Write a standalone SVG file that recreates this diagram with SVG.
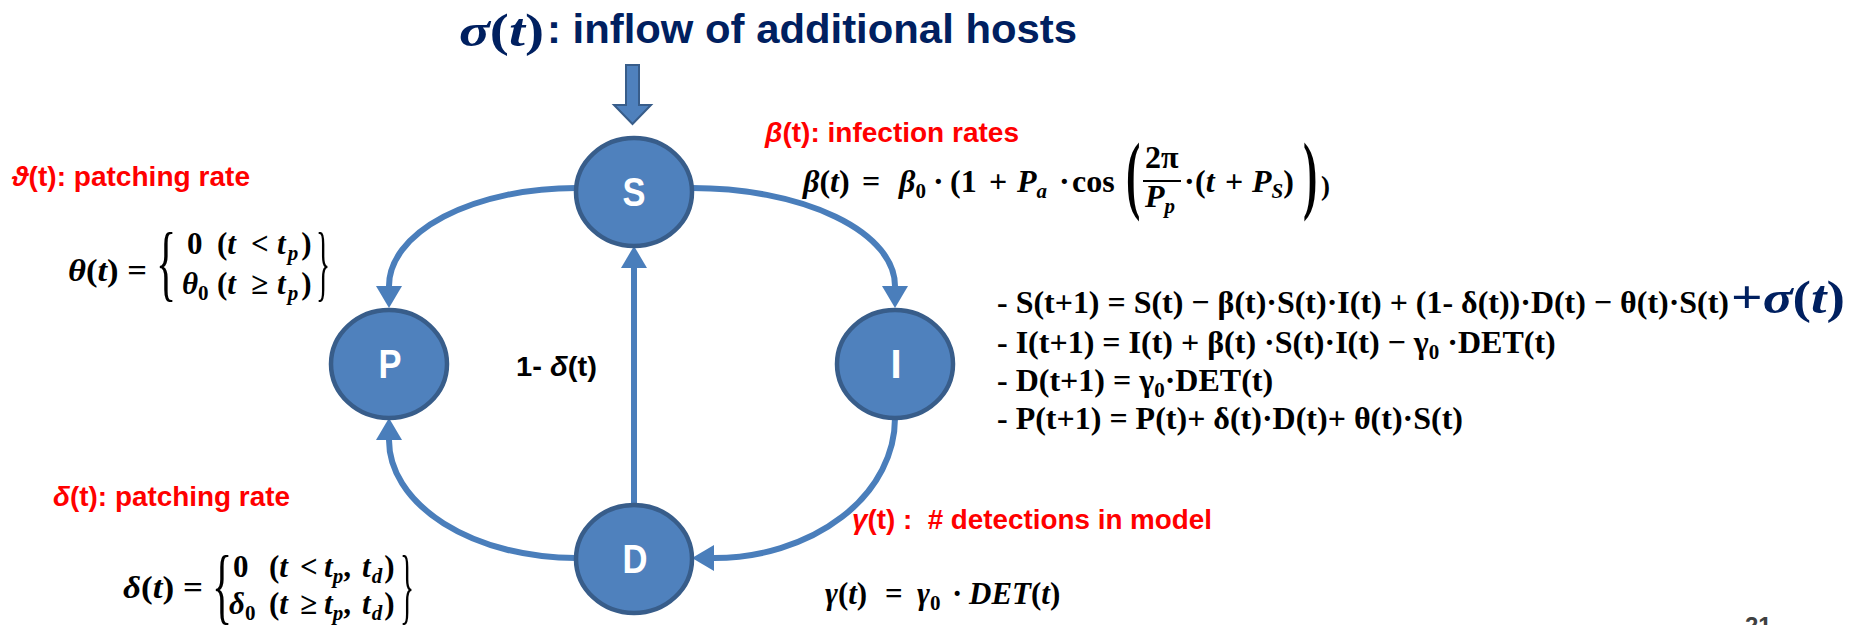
<svg xmlns="http://www.w3.org/2000/svg" width="1857" height="625" viewBox="0 0 1857 625">
  <style>
    .s { font-family: "Liberation Sans", Arial, sans-serif; font-weight: bold; }
    .m { font-family: "Liberation Serif", "DejaVu Serif", serif; font-weight: bold; fill: #000; }
    .i { font-style: italic; }
    .red { fill: #FF0000; }
    .navy { fill: #002060; }
    .node { fill: #4F81BD; stroke: #385D8A; stroke-width: 4.5; }
    .lbl { fill: #FFFFFF; font-size: 40px; text-anchor: middle; }
    .edge { fill: none; stroke: #4A7EBB; stroke-width: 6; marker-end: url(#ah); }
    .br { font-family: "Liberation Serif", "DejaVu Serif", serif; font-weight: normal; fill: #000; }
    .pre { white-space: pre; }
  </style>
  <defs>
    <marker id="ah" viewBox="0 0 22 26" markerWidth="22" markerHeight="26" refX="0" refY="13" orient="auto" markerUnits="userSpaceOnUse">
      <path d="M0,0 L22,13 L0,26 z" fill="#4A7EBB"/>
    </marker>
  </defs>

  <rect x="0" y="0" width="1857" height="625" fill="#FFFFFF"/>

  <!-- title and inflow arrow -->
  <g id="title">
    <text class="m navy" x="459" y="46" font-size="46" textLength="85" lengthAdjust="spacingAndGlyphs"><tspan class="i">σ</tspan>(<tspan class="i">t</tspan>)</text>
    <text class="s navy" x="547" y="43" font-size="40" textLength="530" lengthAdjust="spacingAndGlyphs">: inflow of additional hosts</text>
  </g>
  <g id="inflow-arrow">
    <polygon points="626,65 639,65 639,105 651,105 632.5,124 614,105 626,105" fill="#4F81BD" stroke="#385D8A" stroke-width="2"/>
  </g>

  <!-- connectors -->
  <g id="connectors">
    <path class="edge" d="M576,188 A187,98 0 0 0 389,286"/>
    <path class="edge" d="M692,188 A203,98 0 0 1 895,286"/>
    <path class="edge" d="M895,418 A181,140 0 0 1 714,558"/>
    <path class="edge" d="M576,558 A187,118 0 0 1 389,440"/>
    <path class="edge" d="M634,504 L634,268"/>
    <text class="s" x="516" y="376" font-size="28" textLength="81" lengthAdjust="spacingAndGlyphs">1- <tspan class="i">δ</tspan>(t)</text>
  </g>

  <!-- compartments -->
  <g id="node-S">
    <ellipse class="node" cx="634" cy="192" rx="58" ry="54"/>
    <text class="s lbl" x="634" y="206" textLength="23" lengthAdjust="spacingAndGlyphs">S</text>
  </g>
  <g id="node-P">
    <ellipse class="node" cx="389" cy="364" rx="58" ry="54"/>
    <text class="s lbl" x="390" y="378" textLength="23" lengthAdjust="spacingAndGlyphs">P</text>
  </g>
  <g id="node-I">
    <ellipse class="node" cx="895" cy="364" rx="58" ry="54"/>
    <text class="s lbl" x="896" y="378">I</text>
  </g>
  <g id="node-D">
    <ellipse class="node" cx="634" cy="559" rx="58" ry="54"/>
    <text class="s lbl" x="635" y="573" textLength="25" lengthAdjust="spacingAndGlyphs">D</text>
  </g>

  <!-- patching rate theta -->
  <g id="theta">
    <text class="s red" x="12" y="186" font-size="27" textLength="238" lengthAdjust="spacingAndGlyphs"><tspan class="i">ϑ</tspan>(t): patching rate</text>
    <text class="m" x="68" y="281" font-size="31" textLength="79" lengthAdjust="spacingAndGlyphs"><tspan class="i">θ</tspan>(<tspan class="i">t</tspan>) =</text>
    <text class="br" transform="translate(156,291) scale(0.5,1)" x="0" y="0" font-size="84">{</text>
    <text class="m" y="254" font-size="31"><tspan x="187">0</tspan><tspan x="217">(</tspan><tspan class="i">t</tspan><tspan x="251">&lt;</tspan><tspan x="277" class="i">t</tspan><tspan class="i" font-size="21" dx="2" dy="6">p</tspan><tspan dx="3" dy="-6">)</tspan></text>
    <text class="m" y="294" font-size="31"><tspan x="182" class="i">θ</tspan><tspan font-size="21" dy="6">0</tspan><tspan x="217" dy="-6">(</tspan><tspan class="i">t</tspan><tspan x="251">≥</tspan><tspan x="277" class="i">t</tspan><tspan class="i" font-size="21" dx="2" dy="6">p</tspan><tspan dx="3" dy="-6">)</tspan></text>
    <text class="br" transform="translate(316,291) scale(0.35,1)" x="0" y="0" font-size="84">}</text>
  </g>

  <!-- patching rate delta -->
  <g id="delta">
    <text class="s red" x="53" y="506" font-size="27" textLength="237" lengthAdjust="spacingAndGlyphs"><tspan class="i">δ</tspan>(t): patching rate</text>
    <text class="m" x="123" y="598" font-size="31" textLength="80" lengthAdjust="spacingAndGlyphs"><tspan class="i">δ</tspan>(<tspan class="i">t</tspan>) =</text>
    <text class="br" transform="translate(212,614) scale(0.5,1)" x="0" y="0" font-size="84">{</text>
    <text class="m" y="577" font-size="31"><tspan x="233">0</tspan><tspan x="269">(</tspan><tspan class="i">t</tspan><tspan x="300">&lt;</tspan><tspan x="324" class="i">t</tspan><tspan class="i" font-size="21" dy="6">p</tspan><tspan dy="-6">,</tspan><tspan x="362" class="i">t</tspan><tspan class="i" font-size="21" dx="1" dy="6">d</tspan><tspan dx="2" dy="-6">)</tspan></text>
    <text class="m" y="614" font-size="31"><tspan x="229" class="i">δ</tspan><tspan font-size="21" dy="6">0</tspan><tspan x="269" dy="-6">(</tspan><tspan class="i">t</tspan><tspan x="300">≥</tspan><tspan x="324" class="i">t</tspan><tspan class="i" font-size="21" dy="6">p</tspan><tspan dy="-6">,</tspan><tspan x="362" class="i">t</tspan><tspan class="i" font-size="21" dx="1" dy="6">d</tspan><tspan dx="2" dy="-6">)</tspan></text>
    <text class="br" transform="translate(400,614) scale(0.35,1)" x="0" y="0" font-size="84">}</text>
  </g>

  <!-- infection rate beta -->
  <g id="beta">
    <text class="s red" x="765" y="142" font-size="27" textLength="254" lengthAdjust="spacingAndGlyphs"><tspan class="i">β</tspan>(t): infection rates</text>
    <text class="m" y="192" font-size="32">
      <tspan x="803" class="i">β</tspan><tspan>(</tspan><tspan class="i">t</tspan><tspan>)</tspan>
      <tspan x="862">=</tspan>
      <tspan x="899" class="i">β</tspan><tspan font-size="21" dy="6">0</tspan>
      <tspan x="933" dy="-6">·</tspan>
      <tspan x="950">(1</tspan>
      <tspan x="989">+</tspan>
      <tspan x="1017" class="i">P</tspan><tspan class="i" font-size="21" dy="6">a</tspan>
      <tspan x="1059" dy="-6">·</tspan>
      <tspan x="1072">cos</tspan>
    </text>
    <text class="m" transform="translate(1126,203) scale(0.5,1)" x="0" y="0" font-size="86">(</text>
    <text class="m" x="1145" y="168" font-size="32">2π</text>
    <line x1="1143" y1="181" x2="1181" y2="181" stroke="#000" stroke-width="2"/>
    <text class="m" y="207" font-size="32"><tspan x="1145" class="i">P</tspan><tspan class="i" font-size="21" dy="6">p</tspan></text>
    <text class="m" y="192" font-size="32">
      <tspan x="1184">·</tspan>
      <tspan x="1195">(</tspan><tspan class="i">t</tspan>
      <tspan x="1225">+</tspan>
      <tspan x="1252" class="i">P</tspan><tspan class="i" font-size="21" dy="6">S</tspan><tspan dy="-6">)</tspan>
    </text>
    <text class="m" transform="translate(1303,203) scale(0.5,1)" x="0" y="0" font-size="86">)</text>
    <text class="m" x="1321" y="195" font-size="27">)</text>
  </g>

  <!-- detections gamma -->
  <g id="gamma">
    <text class="s red pre" x="852" y="529" font-size="27" textLength="360" lengthAdjust="spacingAndGlyphs"><tspan class="i">γ</tspan>(t) :  # detections in model</text>
    <text class="m" y="604" font-size="31">
      <tspan x="825" class="i">γ</tspan><tspan>(</tspan><tspan class="i">t</tspan><tspan>)</tspan>
      <tspan x="885">=</tspan>
      <tspan x="917" class="i">γ</tspan><tspan font-size="21" dy="6">0</tspan>
      <tspan x="952" dy="-6">·</tspan>
      <tspan x="969" class="i">DET</tspan><tspan>(</tspan><tspan class="i">t</tspan><tspan>)</tspan>
    </text>
  </g>

  <!-- difference equations -->
  <g id="equations">
    <text class="m" x="997" y="313" font-size="32" textLength="732" lengthAdjust="spacingAndGlyphs">- S(t+1) = S(t) − β(t)·S(t)·I(t) + (1- δ(t))·D(t) − θ(t)·S(t)</text>
    <text class="m navy" x="1731" y="313" font-size="46" textLength="114" lengthAdjust="spacingAndGlyphs">+<tspan class="i">σ</tspan>(<tspan class="i">t</tspan>)</text>
    <text class="m" x="997" y="353" font-size="32">- I(t+1) = I(t) + β(t) ·S(t)·I(t) − γ<tspan font-size="21" dy="6">0</tspan><tspan dy="-6"> ·DET(t)</tspan></text>
    <text class="m" x="997" y="391" font-size="32">- D(t+1) = γ<tspan font-size="21" dy="6">0</tspan><tspan dy="-6">·DET(t)</tspan></text>
    <text class="m" x="997" y="429" font-size="32" textLength="466" lengthAdjust="spacingAndGlyphs">- P(t+1) = P(t)+ δ(t)·D(t)+ θ(t)·S(t)</text>
  </g>

  <!-- slide number -->
  <text class="s" x="1745" y="634" font-size="24" font-weight="normal" fill="#404040">21</text>
</svg>
